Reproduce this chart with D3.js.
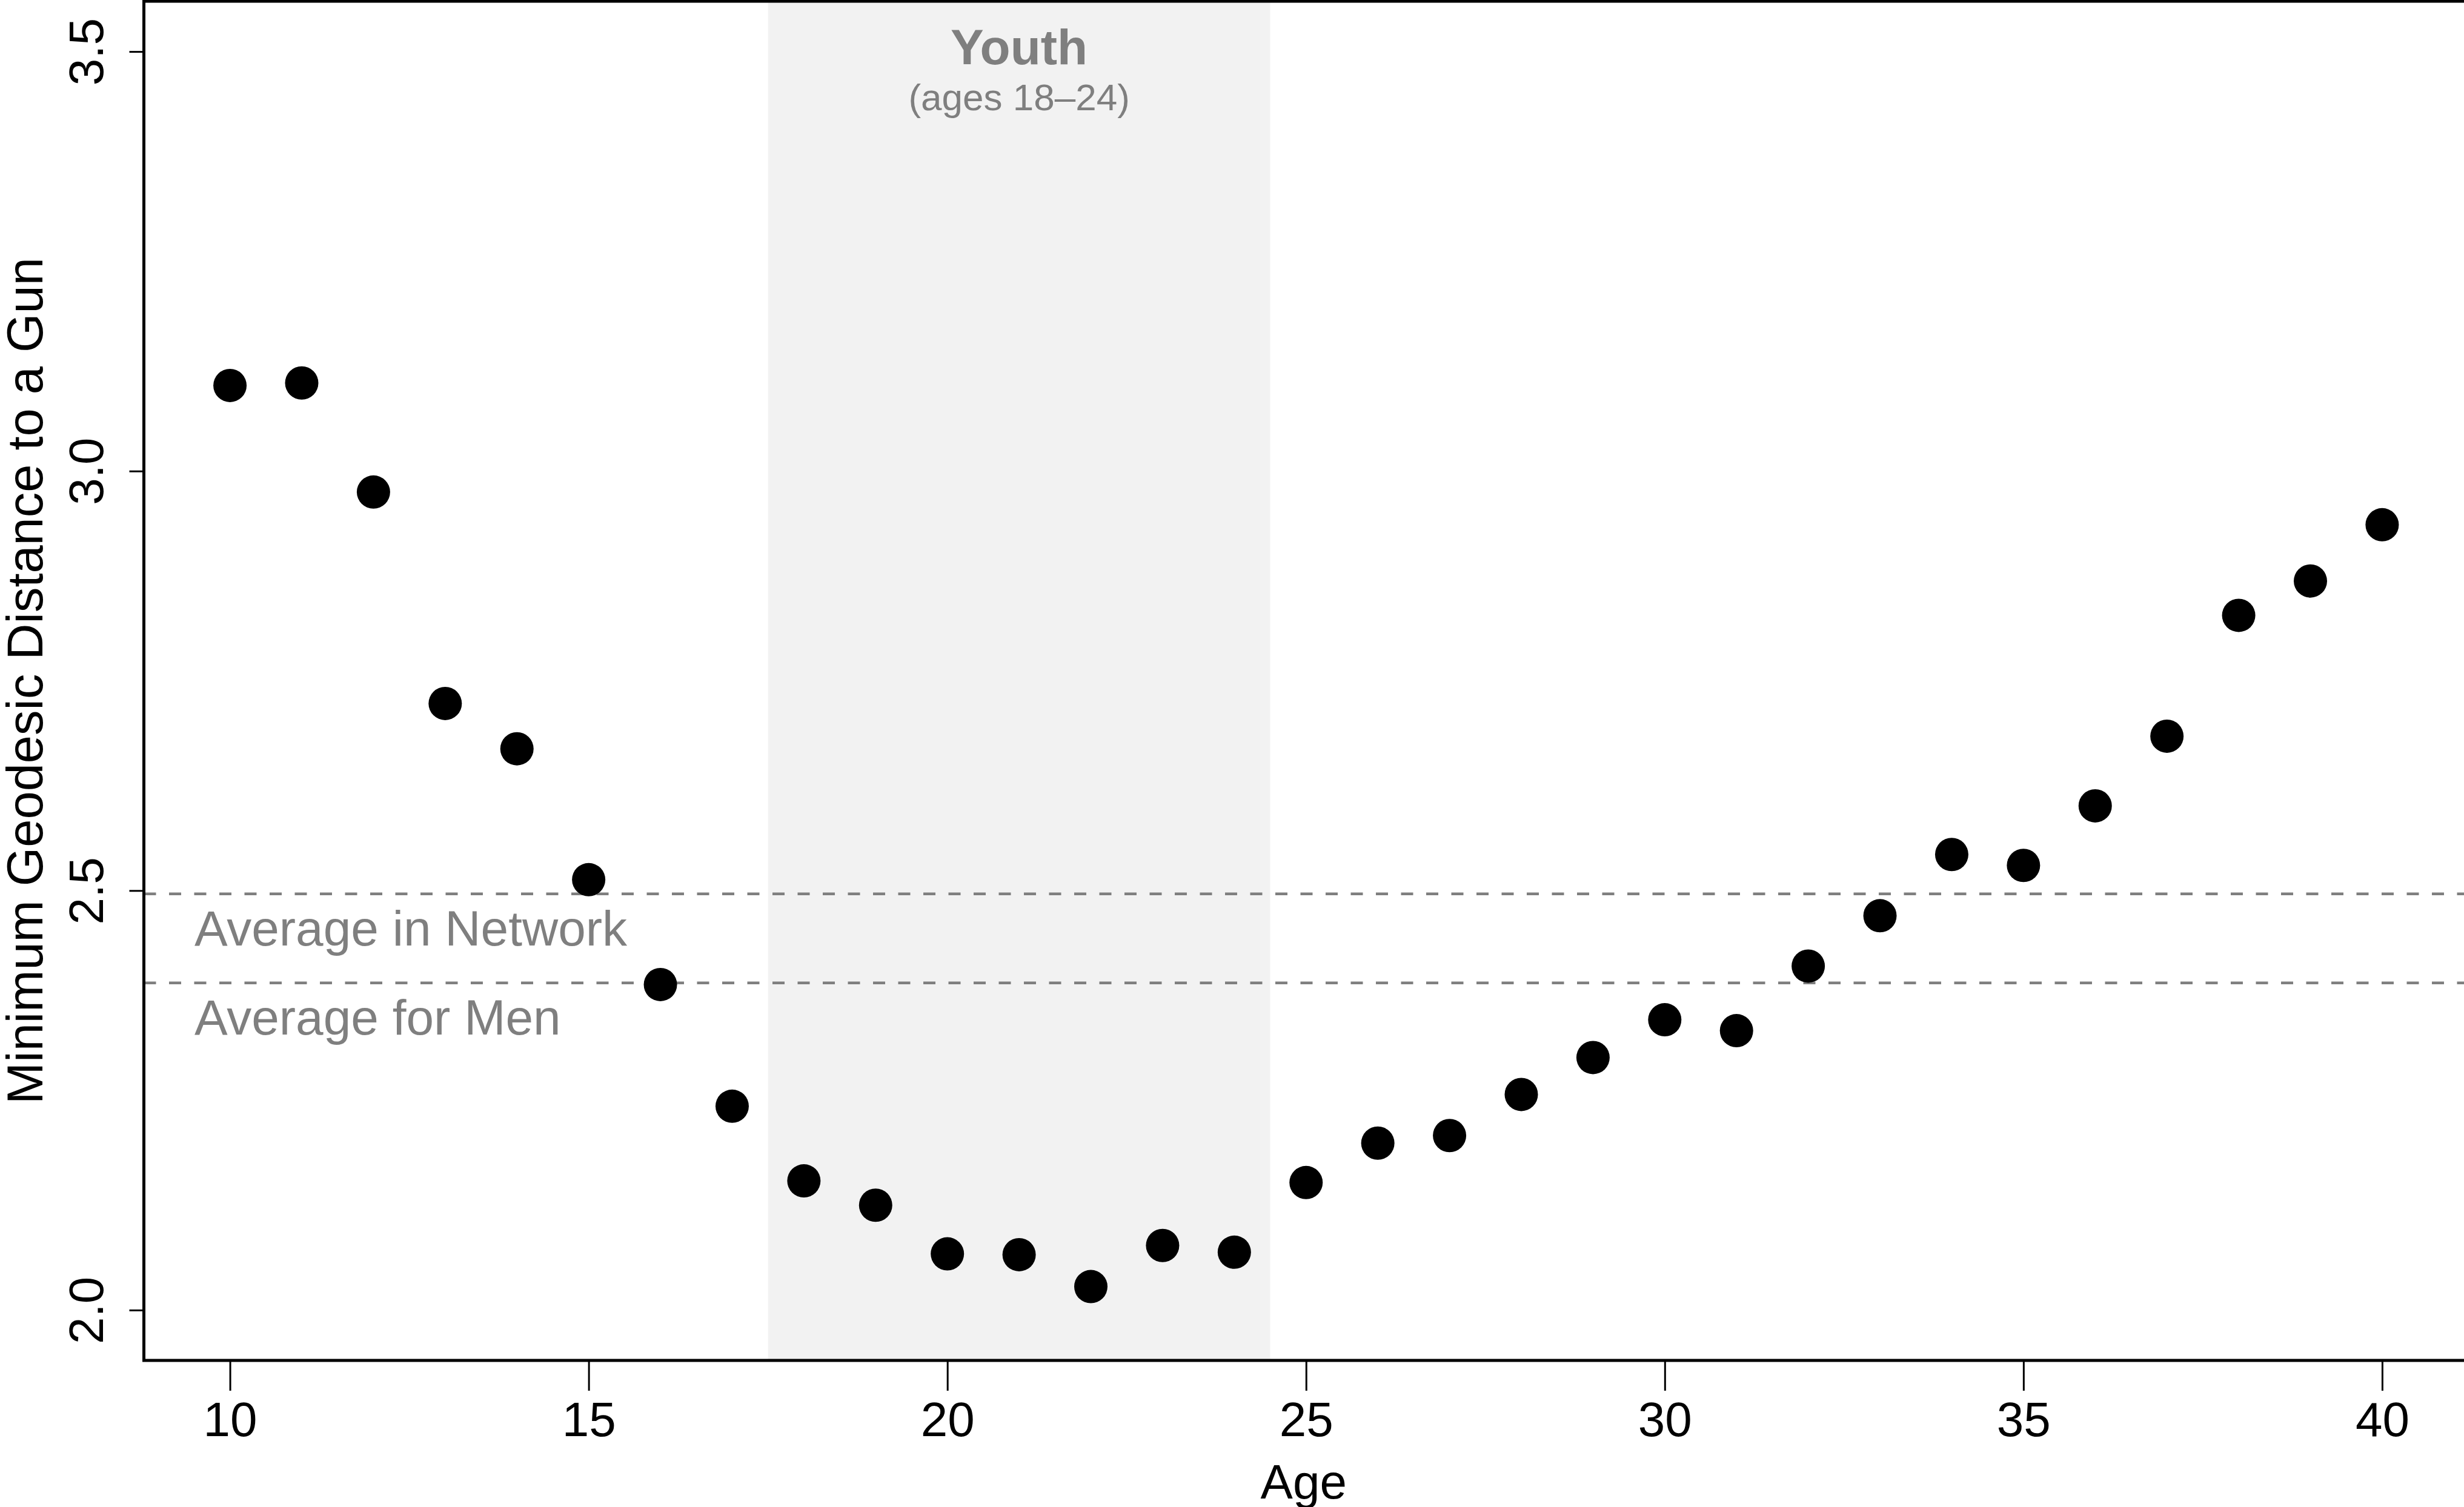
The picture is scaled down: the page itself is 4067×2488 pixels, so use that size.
<!DOCTYPE html>
<html><head><meta charset="utf-8">
<script src="https://cdn.jsdelivr.net/npm/d3@7"></script>
<style>html,body{margin:0;padding:0;background:#fff;overflow:hidden}</style>
</head><body>
<script>
const ages = [10,11,12,13,14,15,16,17,18,19,20,21,22,23,24,25,26,27,28,29,30,31,32,33,34,35,36,37,38,39,40];
const distance = [3.102,3.105,2.975,2.723,2.669,2.513,2.388,2.243,2.154,2.125,2.067,2.066,2.028,2.077,2.069,2.152,2.199,2.208,2.257,2.301,2.346,2.333,2.410,2.470,2.543,2.530,2.601,2.684,2.828,2.869,2.936];
const xTicks = [10,15,20,25,30,35,40];
const yTicks = [2.0,2.5,3.0,3.5];
const refLines = [{label:"Average in Network", value:2.496},{label:"Average for Men", value:2.390}];
const youthRange = [17.5,24.5];
const youthTitle = "Youth";
const youthSub = "(ages 18\u201324)";

const W=4067,H=2488;
const svg=d3.select("body").append("svg").attr("width",W).attr("height",H).style("display","block");
const font="'Liberation Sans', Arial, Helvetica, sans-serif";
const x=d3.scaleLinear().domain([8.8,41.2]).range([237.5,4074]);
const y=d3.scaleLinear().domain([1.94,3.56]).range([2246,2]);

// youth band
svg.append("rect").attr("x",x(youthRange[0])).attr("y",y(3.56)).attr("width",x(youthRange[1])-x(youthRange[0])).attr("height",y(1.94)-y(3.56)).attr("fill","#f2f2f2");
svg.append("text").attr("x",x(21)).attr("y",106).attr("text-anchor","middle").attr("font-family",font).attr("font-weight","bold").attr("font-size",82).attr("fill","#7f7f7f").text(youthTitle);
svg.append("text").attr("x",x(21)).attr("y",182).attr("text-anchor","middle").attr("font-family",font).attr("font-size",62).attr("fill","#7f7f7f").text(youthSub);

// reference lines
refLines.forEach(r=>{
  svg.append("line").attr("x1",x(8.8)).attr("x2",x(41.2)).attr("y1",y(r.value)).attr("y2",y(r.value)).attr("stroke","#7f7f7f").attr("stroke-width",4.5).attr("stroke-dasharray","20,21.5");
  svg.append("text").attr("x",321).attr("y",y(r.value)+85).attr("font-family",font).attr("font-size",82).attr("fill","#7f7f7f").text(r.label);
});

// points
svg.append("g").selectAll("circle").data(ages).join("circle").attr("cx",d=>x(d)).attr("cy",(d,i)=>y(distance[i])).attr("r",27.5).attr("fill","#000");

// box
svg.append("rect").attr("x",x(8.8)).attr("y",y(3.56)).attr("width",x(41.2)-x(8.8)).attr("height",y(1.94)-y(3.56)).attr("fill","none").attr("stroke","#000").attr("stroke-width",5);

// x axis
const gx=svg.append("g").attr("transform",`translate(0,${y(1.94)})`).call(d3.axisBottom(x).tickValues(xTicks).tickSize(50).tickSizeOuter(0).tickPadding(18).tickFormat(d3.format("d")));
gx.select(".domain").remove();
gx.selectAll(".tick line").attr("stroke","#000").attr("stroke-width",3);
gx.selectAll(".tick text").attr("font-family",font).attr("font-size",80).attr("fill","#000");

// y axis
const gy=svg.append("g").attr("transform",`translate(${x(8.8)},0)`).call(d3.axisLeft(y).tickValues(yTicks).tickSize(24).tickSizeOuter(0).tickFormat(d3.format(".1f")));
gy.select(".domain").remove();
gy.selectAll(".tick line").attr("stroke","#000").attr("stroke-width",3);
gy.selectAll(".tick text").attr("x",0).attr("y",0).attr("dy",0).attr("text-anchor","middle").attr("transform","translate(-68,0) rotate(-90)").attr("font-family",font).attr("font-size",80).attr("fill","#000");

// axis titles
svg.append("text").attr("x",(x(8.8)+x(41.2))/2 - 4).attr("y",2474).attr("text-anchor","middle").attr("font-family",font).attr("font-size",80).attr("fill","#000").text("Age");
svg.append("text").attr("transform",`translate(70,${(y(1.94)+y(3.56))/2}) rotate(-90)`).attr("text-anchor","middle").attr("font-family",font).attr("font-size",83).attr("fill","#000").text("Minimum Geodesic Distance to a Gun");
</script>
</body></html>
